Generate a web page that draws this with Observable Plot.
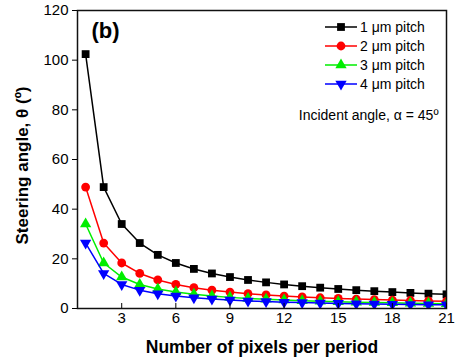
<!DOCTYPE html>
<html>
<head>
<meta charset="utf-8">
<script src="https://cdn.jsdelivr.net/npm/d3@7"></script>
<script src="https://cdn.jsdelivr.net/npm/@observablehq/plot@0.6"></script>
<style>
  html, body { margin: 0; padding: 0; background: #fff; }
  #chart { width: 455px; height: 364px; }
</style>
</head>
<body>
<div id="chart"></div>
<script>
const pixels = [1,2,3,4,5,6,7,8,9,10,11,12,13,14,15,16,17,18,19,20,21];
const pitch1 = [102.44,48.89,34.02,26.36,21.60,18.33,15.94,14.11,12.66,11.49,10.52,9.69,8.99,8.39,7.86,7.39,6.98,6.61,6.28,5.98,5.71];
const pitch2 = [48.89,26.36,18.33,14.11,11.49,9.69,8.39,7.39,6.61,5.98,5.46,5.02,4.65,4.33,4.05,3.80,3.59,3.39,3.22,3.06,2.92];
const pitch3 = [34.02,18.33,12.66,9.69,7.86,6.61,5.71,5.02,4.48,4.05,3.69,3.39,3.14,2.92,2.73,2.56,2.41,2.28,2.16,2.06,1.96];
const pitch4 = [26.36,14.11,9.69,7.39,5.98,5.02,4.33,3.80,3.39,3.06,2.79,2.56,2.37,2.20,2.06,1.93,1.82,1.72,1.63,1.55,1.48];
const seriesNames = ["1 μm pitch", "2 μm pitch", "3 μm pitch", "4 μm pitch"];
const xTicks = [3,6,9,12,15,18,21];
const yTicks = [0,20,40,60,80,100,120];
const xLabel = "Number of pixels per period";
const yLabel = "Steering angle, θ (º)";
const panelLabel = "(b)";
const noteText = "Incident angle, α = 45º";

const downTriangle = {
  draw(context, size) {
    const sqrt3 = Math.sqrt(3);
    const y = -Math.sqrt(size / (sqrt3 * 3));
    context.moveTo(0, -y * 2);
    context.lineTo(-sqrt3 * y, y);
    context.lineTo(sqrt3 * y, y);
    context.closePath();
  }
};

const styles = [
  {color: "#000000", symbol: "square", r: 4.4},
  {color: "#ff0000", symbol: "circle", r: 4.4},
  {color: "#00ee00", symbol: "triangle", r: 4.2},
  {color: "#0000ff", symbol: downTriangle, r: 4.2}
];

const allSeries = [pitch1, pitch2, pitch3, pitch4];
const table = [];
allSeries.forEach((vals, i) => {
  vals.forEach((v, j) => table.push({series: seriesNames[i], idx: i, x: pixels[j], y: v}));
});

const W = 455, H = 364;
const margin = {top: 10, right: 9, bottom: 56, left: 77};
const font = "'Liberation Sans', Arial, sans-serif";

const marks = [];
styles.forEach((s, i) => {
  const d = table.filter(t => t.idx === i);
  marks.push(Plot.line(d, {x: "x", y: "y", stroke: s.color, strokeWidth: 1.5, clip: true}));
  marks.push(Plot.dot(d, {x: "x", y: "y", fill: s.color, stroke: "none", symbol: s.symbol, r: s.r, clip: true}));
});

const plot = Plot.plot({
  width: W,
  height: H,
  marginTop: margin.top,
  marginRight: margin.right,
  marginBottom: margin.bottom,
  marginLeft: margin.left,
  style: {fontFamily: font, fontSize: "15px", color: "#000", background: "#fff"},
  x: {domain: [0.55, 21]},
  y: {domain: [0, 120]},
  marks: [
    ...marks,
    Plot.frame({stroke: "#111", strokeWidth: 1.5}),
    Plot.axisY({ticks: yTicks, tickSize: 5, tickPadding: 4, label: null, fontSize: 15}),
    Plot.axisX({ticks: xTicks, tickSize: 0, tickPadding: 4, label: null, fontSize: 15}),
    Plot.axisX({ticks: xTicks, tickSize: -5, text: null, label: null}),
    Plot.text([xLabel], {frameAnchor: "bottom", dy: 44, textAnchor: "middle", fontWeight: "bold", fontSize: 17.5, text: d => d}),
    Plot.text([yLabel], {frameAnchor: "left", dx: -55, dy: 6, rotate: -90, textAnchor: "middle", fontWeight: "bold", fontSize: 17, text: d => d}),
    Plot.text([panelLabel], {frameAnchor: "top-left", dx: 14, dy: 12, lineAnchor: "top", textAnchor: "start", fontWeight: "bold", fontSize: 22, text: d => d}),
    Plot.text([noteText], {frameAnchor: "top-right", dx: -8, dy: 100, textAnchor: "end", fontSize: 14, text: d => d})
  ]
});

document.getElementById("chart").appendChild(plot);

// legend inside the frame (top-right)
const svgSel = d3.select(plot);
const frameRight = W - margin.right;
const frameTop = margin.top;
const lg = svgSel.append("g").attr("font-family", font).attr("font-size", 14).attr("text-anchor", "start");
styles.forEach((s, i) => {
  const yy = frameTop + 17 + i * 19;
  lg.append("line").attr("x1", frameRight - 121).attr("x2", frameRight - 89).attr("y1", yy).attr("y2", yy)
    .attr("stroke", s.color).attr("stroke-width", 1.5);
  const symType = typeof s.symbol === "string"
    ? {square: d3.symbolSquare, circle: d3.symbolCircle, triangle: d3.symbolTriangle}[s.symbol]
    : s.symbol;
  lg.append("path").attr("d", d3.symbol(symType, Math.PI * s.r * s.r)())
    .attr("transform", `translate(${frameRight - 105},${yy})`).attr("fill", s.color);
  lg.append("text").attr("x", frameRight - 86).attr("y", yy).attr("dy", "0.35em").attr("fill", "#000")
    .attr("text-anchor", "start").text(seriesNames[i]);
});
</script>
</body>
</html>
